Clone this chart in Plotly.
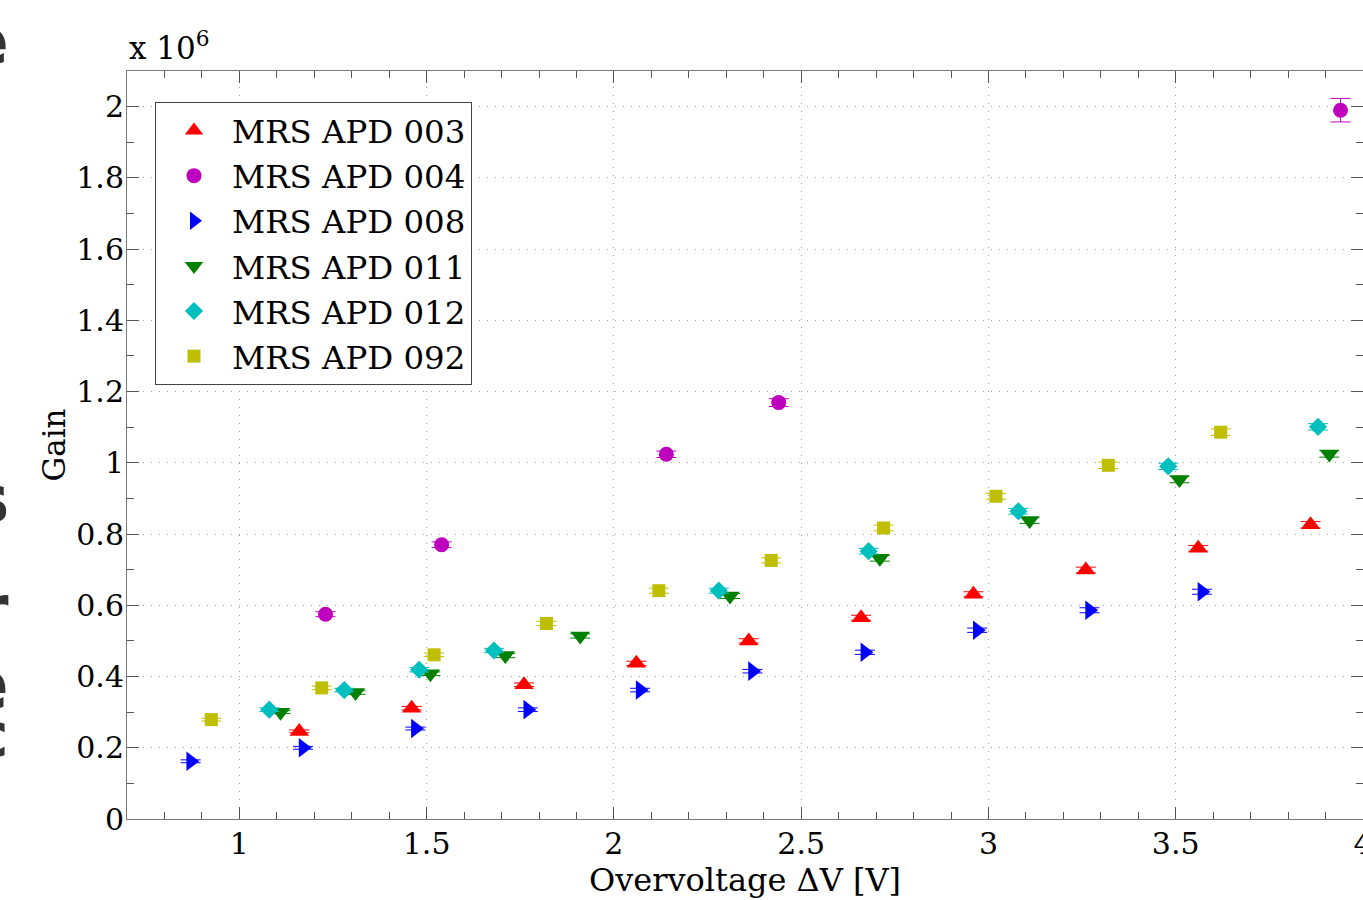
import plotly.graph_objects as go

# Overvoltage (V), gain (in units of 1e6) and gain uncertainty for each APD
volt_003 = [1.16, 1.46, 1.76, 2.06, 2.36, 2.66, 2.96, 3.26, 3.56, 3.86]
gain_003 = [0.246, 0.311, 0.377, 0.437, 0.500, 0.565, 0.631, 0.699, 0.760, 0.826]
err_003 = [0.004, 0.005, 0.005, 0.006, 0.006, 0.007, 0.007, 0.008, 0.008, 0.009]

volt_004 = [1.23, 1.54, 2.14, 2.44, 3.94]
gain_004 = [0.575, 0.770, 1.024, 1.169, 1.990]
err_004 = [0.007, 0.008, 0.009, 0.011, 0.033]

volt_008 = [0.87, 1.17, 1.47, 1.77, 2.07, 2.37, 2.67, 2.97, 3.27, 3.57]
gain_008 = [0.162, 0.200, 0.254, 0.307, 0.362, 0.415, 0.468, 0.530, 0.586, 0.638]
err_008 = [0.004, 0.004, 0.004, 0.005, 0.005, 0.005, 0.006, 0.006, 0.007, 0.007]

volt_011 = [1.11, 1.31, 1.51, 1.71, 1.91, 2.31, 2.71, 3.11, 3.51, 3.91]
gain_011 = [0.300, 0.355, 0.408, 0.459, 0.514, 0.626, 0.732, 0.838, 0.953, 1.025]
err_011 = [0.004, 0.005, 0.005, 0.006, 0.006, 0.007, 0.008, 0.008, 0.009, 0.009]

volt_012 = [1.08, 1.28, 1.48, 1.68, 2.28, 2.68, 3.08, 3.48, 3.88]
gain_012 = [0.307, 0.362, 0.419, 0.473, 0.641, 0.752, 0.864, 0.990, 1.101]
err_012 = [0.005, 0.005, 0.006, 0.006, 0.007, 0.008, 0.008, 0.009, 0.009]

volt_092 = [0.925, 1.22, 1.52, 1.82, 2.12, 2.42, 2.72, 3.02, 3.32, 3.62]
gain_092 = [0.279, 0.368, 0.461, 0.549, 0.641, 0.726, 0.817, 0.906, 0.993, 1.086]
err_092 = [0.004, 0.005, 0.005, 0.006, 0.007, 0.007, 0.008, 0.008, 0.009, 0.009]

series = [
    ("MRS APD 003", volt_003, gain_003, err_003, "#ff0000", "triangle-up", 17),
    ("MRS APD 004", volt_004, gain_004, err_004, "#bf00bf", "circle", 15),
    ("MRS APD 008", volt_008, gain_008, err_008, "#0000ff", "triangle-right", 17),
    ("MRS APD 011", volt_011, gain_011, err_011, "#008000", "triangle-down", 17),
    ("MRS APD 012", volt_012, gain_012, err_012, "#00bfbf", "diamond", 14),
    ("MRS APD 092", volt_092, gain_092, err_092, "#bfbf00", "square", 13),
]

SERIF = "DejaVu Serif"

fig = go.Figure()
for name, x, y, e, color, symbol, size in series:
    fig.add_trace(go.Scatter(
        x=x, y=y, name=name, mode="markers",
        marker=dict(color=color, symbol=symbol, size=size, line=dict(width=0)),
        error_y=dict(type="data", array=e, visible=True, color=color,
                     thickness=1, width=10),
    ))

axis_common = dict(
    showline=True, linecolor="#7a7a7a", linewidth=1, mirror="ticks",
    ticks="inside", ticklen=12, tickcolor="#555555", tickwidth=1,
    showgrid=True, gridcolor="#a0a0a0", gridwidth=1, griddash="1px,7px",
    zeroline=False, ticklabeloverflow="allow", automargin=False,
    tickfont=dict(family=SERIF, size=30, color="black"),
)

fig.update_xaxes(
    range=[0.7, 4.0], tick0=0, dtick=0.5,
    minor=dict(dtick=0.1, ticklen=7, tickcolor="#555555", ticks="inside", showgrid=False),
    title=dict(text="Overvoltage \u0394V [V]", font=dict(family=SERIF, size=32, color="black"),
               standoff=2),
    ticklabelstandoff=-2,
    **axis_common,
)
fig.update_yaxes(
    range=[0, 2.1], tick0=0, dtick=0.2,
    minor=dict(dtick=0.1, ticklen=7, tickcolor="#555555", ticks="inside", showgrid=False),
    title=dict(text="Gain", font=dict(family=SERIF, size=31, color="black"), standoff=1),
    ticklabelstandoff=-4,
    **axis_common,
)

annotations = [
    dict(text="x 10<sup>6</sup>", xref="paper", yref="paper", x=0.0, y=1.0,
         xanchor="left", yanchor="bottom", yshift=3, showarrow=False,
         font=dict(family=SERIF, size=31, color="black")),
]
# fragments of neighbouring lettering along the left edge
for ch, ypx, size in [("e", 41, 66), ("s", 500, 66), ("r", 610, 66), ("e", 684, 72), ("c", 735, 60)]:
    annotations.append(dict(
        text=ch, xref="paper", yref="paper",
        x=(11 - 127) / 1236, y=(819.5 - ypx) / 748.5,
        xanchor="right", yanchor="middle", showarrow=False,
        font=dict(family="DejaVu Sans", size=size, color="#333333", weight="bold"),
    ))

fig.update_layout(
    width=1363, height=900,
    margin=dict(l=127, r=0, t=71, b=81),
    paper_bgcolor="white", plot_bgcolor="white",
    font=dict(family=SERIF, color="black"),
    showlegend=True,
    legend=dict(
        x=(155 - 127) / 1236, y=(819.5 - 102) / 748.5, xanchor="left", yanchor="top",
        bgcolor="white", bordercolor="#444444", borderwidth=1,
        font=dict(family=SERIF, size=32.4, color="black"),
        itemwidth=66, tracegroupgap=0,
    ),
    annotations=annotations,
)

fig.write_html("out.html")
